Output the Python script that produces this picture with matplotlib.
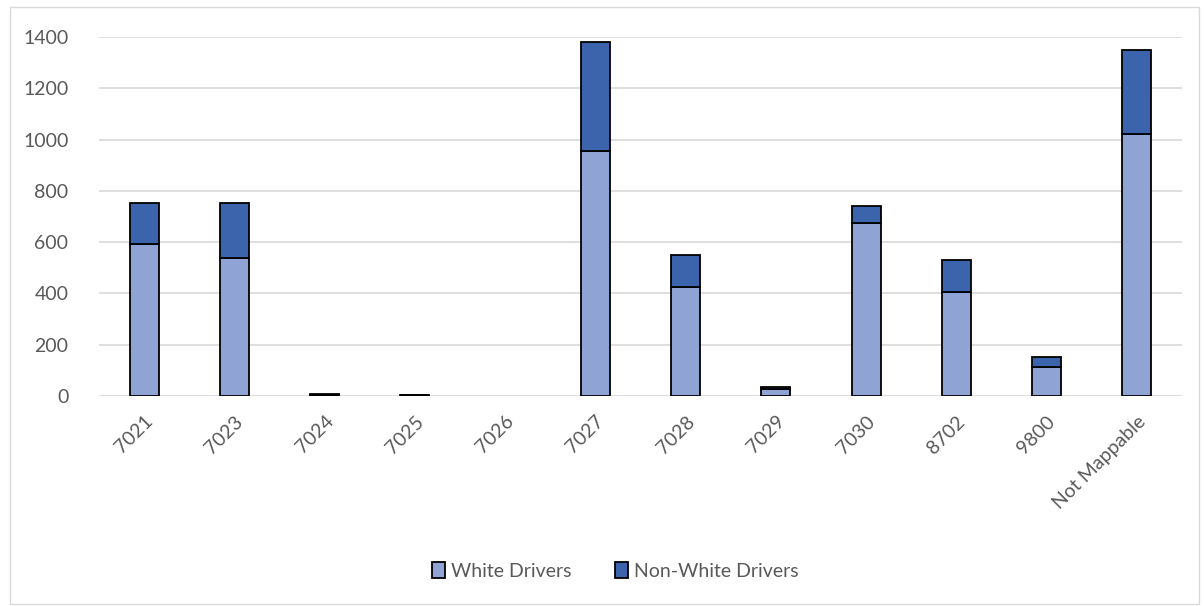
#!/usr/bin/env python

""" stacked bar chart of drivers by area """

import numpy as np
import matplotlib.pyplot as plt
from matplotlib.patches import Rectangle

# data
areas = ['7021', '7023', '7024', '7025', '7026', '7027', '7028',
         '7029', '7030', '8702', '9800', 'Not Mappable']
white = [593, 538, 3, 2, 0, 957, 425, 28, 676, 406, 113, 1022]
non_white = [161, 213, 6, 2, 0, 425, 124, 7, 64, 126, 38, 329]

LIGHT = '#8FA3D4'
DARK = '#3B64AD'
TEXT = '#595959'


def main():
    plt.rcParams['font.family'] = ['Lato', 'DejaVu Sans']

    fig = plt.figure(figsize=(12.04, 6.06), dpi=100)
    ax = fig.add_axes([99 / 1204, 1 - 396 / 606, 1083 / 1204, 359 / 606])

    x = np.arange(len(areas))
    # no outline on empty bars
    lw_white = [1.3 if v > 0 else 0 for v in white]
    lw_non = [1.3 if v > 0 else 0 for v in non_white]
    ax.bar(x, white, width=0.32, color=LIGHT, edgecolor='black',
           linewidth=lw_white, label='White Drivers', zorder=3)
    ax.bar(x, non_white, width=0.32, bottom=white, color=DARK,
           edgecolor='black', linewidth=lw_non, label='Non-White Drivers',
           zorder=3)

    ax.set_xlim(-0.5, len(areas) - 0.5)
    ax.set_ylim(0, 1400)
    ax.set_yticks(np.arange(0, 1401, 200))
    ax.yaxis.grid(True, color='#d9d9d9', linewidth=1.2, zorder=0)
    ax.tick_params(axis='both', length=0, labelsize=14, labelcolor=TEXT)
    ax.tick_params(axis='y', pad=22)
    ax.tick_params(axis='x', pad=12)
    ax.set_xticks(x)
    ax.set_xticklabels(areas, rotation=45, ha='right', rotation_mode='anchor')
    for spine in ax.spines.values():
        spine.set_visible(False)

    leg = fig.legend(loc='center', bbox_to_anchor=(0.511, 1 - 571 / 606),
                     ncol=2, frameon=False, fontsize=14, labelcolor=TEXT,
                     handlelength=0.7, handleheight=0.9, handletextpad=0.3,
                     columnspacing=2.2)
    for h in leg.legend_handles:
        h.set_linewidth(1.3)

    # outer chart border
    fig.patches.append(Rectangle((10 / 1204, 2 / 606), 1189 / 1204,
                                 597 / 606, transform=fig.transFigure,
                                 fill=False, edgecolor='#d9d9d9',
                                 linewidth=1.0))

    fig.savefig('out.png', dpi=100)


if __name__ == "__main__":
    main()
